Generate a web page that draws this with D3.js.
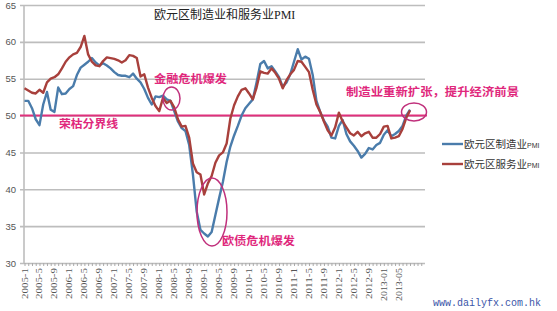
<!DOCTYPE html>
<html>
<head>
<meta charset="utf-8">
<script src="https://cdn.jsdelivr.net/npm/d3@7"></script>
<style>
  body { margin: 0; background: #fff; }
  svg { display: block; }
  .grid line { stroke: #bdbdbd; stroke-width: 1.6; }
  .ytick { font-family: "Liberation Sans", sans-serif; font-size: 9.5px; fill: #555; }
  .xtick { font-family: "Liberation Serif", serif; font-size: 8.5px; fill: #555; }
  .note { font-family: "Noto Sans CJK SC", sans-serif; font-size: 11.5px; font-weight: bold; fill: #e0287c; }
  .title { font-family: "Noto Sans CJK SC", sans-serif; font-size: 12px; fill: #222; }
  .legend { font-family: "Noto Sans CJK SC", sans-serif; font-size: 10.5px; fill: #333; }
</style>
</head>
<body>
<svg id="chart" width="557" height="311"></svg>
<script>
// month index 0 = 2005-1
const manufacturing = [
  52.0, 52.0, 51.0, 49.5, 48.7, 51.5, 53.2, 50.8, 50.5, 53.8, 52.9, 53.0,
  53.6, 54.0, 55.5, 56.5, 56.9, 57.3, 57.8, 57.2, 56.8, 57.1, 56.8, 56.4,
  55.9, 55.5, 55.4, 55.4, 55.2, 55.7, 55.0, 54.5, 53.6, 52.4, 51.5, 52.6,
  52.5, 52.7, 52.2, 52.0, 50.6, 49.2, 48.3, 47.9, 46.0, 42.0, 37.0, 34.5,
  34.0, 33.6, 34.2, 36.5, 38.8, 41.0, 43.7, 45.8, 47.3, 48.6, 50.0, 51.0,
  51.6, 52.2, 54.5, 57.0, 57.4, 56.4, 56.7, 56.0, 55.2, 53.9, 54.5, 55.6,
  57.3, 59.0, 57.6, 58.0, 57.7, 55.5, 52.0, 50.5, 49.3, 48.5, 47.0, 46.9,
  48.6, 49.4, 47.5, 46.5, 45.9, 45.2, 44.3, 44.8, 45.6, 45.4, 46.0, 46.3,
  47.4, 48.0, 47.2, 47.5, 47.9, 48.6, 50.0, 50.8
];
const services = [
  53.7, 53.4, 53.1, 53.0, 53.5, 53.1, 54.5, 55.0, 55.2, 55.6, 56.4, 57.3,
  57.9, 58.3, 58.5, 59.3, 60.8, 58.3, 57.3, 56.8, 56.7, 57.4, 57.9, 57.8,
  57.7, 57.5, 57.2, 57.5, 58.2, 58.1, 57.8, 55.3, 55.6, 53.8, 52.4, 51.3,
  50.6, 52.4, 51.7, 52.0, 51.1, 49.5, 48.5, 48.6, 47.0, 43.5, 42.3, 42.0,
  39.3, 40.8, 41.8, 43.6, 44.6, 45.0, 46.2, 49.6, 51.4, 52.6, 53.5, 53.7,
  53.0, 52.2, 53.8, 56.0, 55.8, 55.7, 56.4, 55.8, 55.0, 53.7, 54.8, 55.6,
  56.2, 57.4, 57.3, 56.6, 55.9, 53.5, 51.5, 50.5, 49.2, 48.0, 47.3, 48.4,
  50.4, 49.2, 48.4, 47.6, 47.3, 47.8, 47.2, 47.6, 47.8, 47.0, 47.0, 47.5,
  48.5, 48.6, 46.9, 47.0, 47.2, 48.2, 49.7, 50.7
];
const tickLabels = [
  "2005-1", "2005-5", "2005-9", "2006-1", "2006-5", "2006-9", "2007-1",
  "2007-5", "2007-9", "2008-1", "2008-5", "2008-9", "2009-1", "2009-5",
  "2009-9", "2010-1", "2010-5", "2010-9", "2011-1", "2011-5", "2011-9",
  "2012-1", "2012-5", "2012-9", "2013-01", "2013-05"
];
const yTicks = [30, 35, 40, 45, 50, 55, 60, 65];
const seriesNames = ["欧元区制造业", "欧元区服务业"];
const seriesColors = ["#4a7cab", "#a8403c"];
const boomBust = 50;

let svg = d3.select("#chart");

let x = d3.scaleLinear().domain([0, 107]).range([24.5, 425]);
let y = d3.scaleLinear().domain([30, 65]).range([263, 5]);

// horizontal grid
let yGrid = d3.axisLeft(y)
              .tickValues(yTicks)
              .tickSize(-405)
              .tickFormat("");
svg.append("g")
   .attr("class", "grid")
   .attr("transform", "translate(425,0)")
   .call(yGrid)
   .call(g => g.select(".domain").remove())
   .call(g => g.selectAll("line").attr("x1", 0).attr("x2", -405));

svg.selectAll("text.ytick")
   .data(yTicks)
   .join("text")
   .attr("class", "ytick")
   .attr("x", 16)
   .attr("y", d => y(d) + 3.5)
   .attr("text-anchor", "end")
   .text(d => d);

// y axis line
svg.append("line")
   .attr("x1", 24).attr("x2", 24)
   .attr("y1", y(65)).attr("y2", y(30))
   .attr("stroke", "#bdbdbd")
   .attr("stroke-width", 1.6);

// monthly minor ticks
let xAxis = d3.axisBottom(x)
              .tickValues(d3.range(0, 107))
              .tickSize(3)
              .tickFormat("");
svg.append("g")
   .attr("transform", `translate(0,${y(30)})`)
   .call(xAxis)
   .call(g => g.select(".domain").remove())
   .call(g => g.selectAll("line").attr("stroke", "#aaa"));

svg.selectAll("text.xtick")
   .data(tickLabels)
   .join("text")
   .attr("class", "xtick")
   .attr("transform", (d, i) => `translate(${x(i * 4) + 3},268) rotate(-90)`)
   .attr("text-anchor", "end")
   .attr("textLength", d => d.length == 6 ? 31 : 33)
   .attr("lengthAdjust", "spacingAndGlyphs")
   .text(d => d);

// 50 line
svg.append("line")
   .attr("x1", 20).attr("x2", 427)
   .attr("y1", y(boomBust)).attr("y2", y(boomBust))
   .attr("stroke", "#e0307c")
   .attr("stroke-width", 2);

let line = d3.line()
             .x((d, i) => x(i))
             .y(d => y(d));

[manufacturing, services].forEach((s, k) => {
  svg.append("path")
     .datum(s)
     .attr("fill", "none")
     .attr("stroke", seriesColors[k])
     .attr("stroke-width", 2.4)
     .attr("stroke-linejoin", "round")
     .attr("d", line);
});

// title
svg.append("text")
   .attr("class", "title")
   .attr("x", 154)
   .attr("y", 19)
   .text("欧元区制造业和服务业")
   .append("tspan")
   .attr("font-family", "Liberation Serif, serif")
   .text("PMI");

// annotations
let notes = [
  { t: "金融危机爆发", x: 154, y: 83, w: 73 },
  { t: "荣枯分界线", x: 59, y: 128, w: 59 },
  { t: "欧债危机爆发", x: 222, y: 245, w: 73 },
  { t: "制造业重新扩张，提升经济前景", x: 346, y: 96, w: 173 }
];
svg.selectAll("text.note")
   .data(notes)
   .join("text")
   .attr("class", "note")
   .attr("x", d => d.x)
   .attr("y", d => d.y)
   .attr("textLength", d => d.w)
   .attr("lengthAdjust", "spacingAndGlyphs")
   .text(d => d.t);

let rings = [
  { cx: 171.5, cy: 98.5, rx: 8.5, ry: 11.5 },
  { cx: 212, cy: 212, rx: 15, ry: 34 },
  { cx: 414, cy: 112, rx: 12.5, ry: 9 }
];
svg.selectAll("ellipse")
   .data(rings)
   .join("ellipse")
   .attr("cx", d => d.cx)
   .attr("cy", d => d.cy)
   .attr("rx", d => d.rx)
   .attr("ry", d => d.ry)
   .attr("fill", "none")
   .attr("stroke", "#c0307c")
   .attr("stroke-width", 1.5);

// legend
seriesNames.forEach((n, k) => {
  let ly = 144 + k * 20;
  svg.append("line")
     .attr("x1", 442).attr("x2", 463)
     .attr("y1", ly).attr("y2", ly)
     .attr("stroke", seriesColors[k])
     .attr("stroke-width", 2.4);
  let t = svg.append("text")
             .attr("class", "legend")
             .attr("x", 464)
             .attr("y", ly + 4)
             .text(n);
  t.append("tspan")
   .attr("font-size", "7px")
   .attr("font-family", "Liberation Sans, sans-serif")
   .text("PMI");
});

svg.append("text")
   .attr("x", 433)
   .attr("y", 306)
   .attr("font-family", "Liberation Mono, monospace")
   .attr("font-size", "10px")
   .attr("fill", "#3a55a8")
   .text("www.dailyfx.com.hk");
</script>
</body>
</html>
